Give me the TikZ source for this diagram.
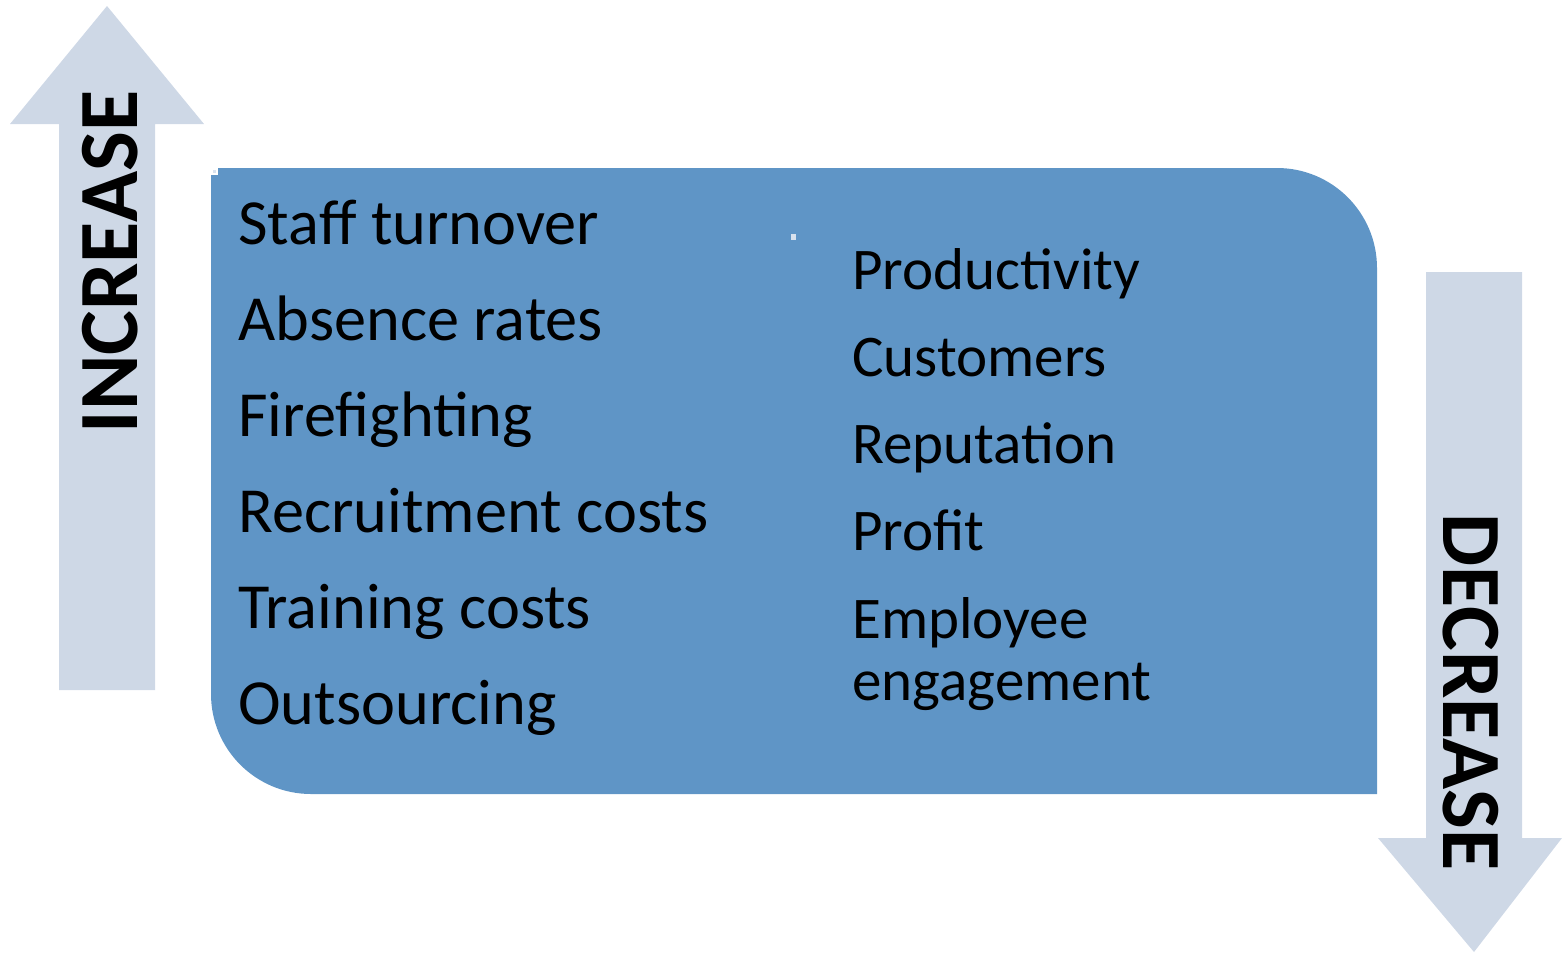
\documentclass[tikz,border=0pt]{standalone}
\usepackage{fontspec}
\setmainfont{Carlito}
\definecolor{boxblue}{HTML}{5F95C6}
\definecolor{arrowgray}{HTML}{CED8E6}
\definecolor{speck}{HTML}{D8E2EE}
\begin{document}
\begin{tikzpicture}[x=0.02cm,y=-0.02cm,
  item/.style={anchor=base west,inner sep=0pt,font=\fontsize{36.6}{43}\selectfont,text=black},
  itemr/.style={item,font=\fontsize{33.6}{40}\selectfont},
  trend/.style={inner sep=0pt,font=\fontsize{48}{58}\selectfont\bfseries,text=black}]
\useasboundingbox (0,0) rectangle (1562,954);
% upward arrow
\fill[arrowgray] (59,690) -- (59,124) -- (10,124) -- (107,6) -- (204,124) -- (155,124) -- (155,690) -- cycle;
% downward arrow
\fill[arrowgray] (1426,272) -- (1426,838) -- (1378,838) -- (1474,952) -- (1562,838) -- (1522,838) -- (1522,272) -- cycle;
% main panel: square top-left and bottom-right corners, rounded others
\fill[boxblue] (211,168) -- (1277,168) arc[start angle=90,end angle=0,x radius=100,y radius=-100]
  -- (1377,794) -- (311,794) arc[start angle=270,end angle=180,x radius=100,y radius=-100] -- cycle;
% small specks on the panel
\fill[white] (211,168) rectangle (218,175);
\fill[speck] (213,170) rectangle (216,173);
\fill[speck] (791,234) rectangle (796,240);
\node[trend,rotate=90] (inc) at (110,262) {INCREASE};
\node[trend,rotate=-90] (dec) at (1471,692) {DECREASE};
% left column
\node[item] (l1) at (238,244) {Staff turnover};
\node[item] (l2) at (238,340) {Absence rates};
\node[item] (l3) at (238,436) {Firefighting};
\node[item] (l4) at (238,532) {Recruitment costs};
\node[item] (l5) at (238,628) {Training costs};
\node[item] (l6) at (238,724) {Outsourcing};
% right column
\node[itemr] (r1) at (852,289) {Productivity};
\node[itemr] (r2) at (852,376) {Customers};
\node[itemr] (r3) at (852,463) {Reputation};
\node[itemr] (r4) at (852,550) {Profit};
\node[itemr] (r5) at (852,638) {Employee};
\node[itemr] (r6) at (852,700) {engagement};
\end{tikzpicture}
\end{document}
